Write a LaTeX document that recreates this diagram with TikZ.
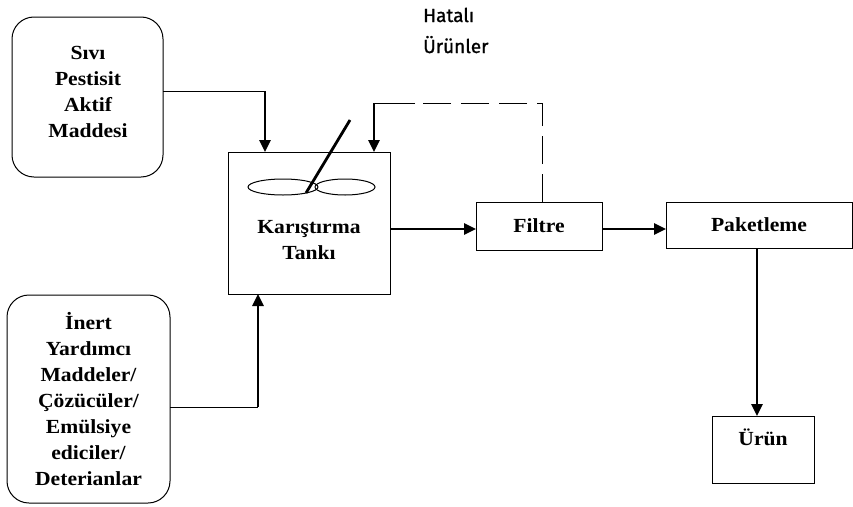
\documentclass[tikz,border=0pt]{standalone}
\usepackage{fontspec}
\setmainfont[FakeStretch=1.08]{Liberation Serif}
\newfontfamily\hfont[FakeBold=1.2]{Fira Sans}
\usetikzlibrary{arrows.meta}
\begin{document}
\begin{tikzpicture}[x=1pt,y=-1pt,
  box/.style={draw, line width=1pt, inner sep=0pt, outer sep=0pt},
  rbox/.style={box, rounded corners=22pt},
  lbl/.style={font=\fontsize{20}{26}\selectfont\bfseries, align=center, inner sep=0pt},
  arr/.style={line width=2.6pt, -{Triangle[length=12pt,width=11pt]}},
  thinline/.style={line width=1pt},
  dashline/.style={line width=1pt, dash pattern=on 28pt off 10pt}]
\useasboundingbox (0,0) rectangle (853,506);
% boxes
\node[rbox, minimum width=151pt, minimum height=160pt] (src1) at (87.5,97) {};
\node[lbl] (t1) at (88,92) {Sıvı\\Pestisit\\Aktif\\Maddesi};
\node[rbox, minimum width=163pt, minimum height=208pt, lbl, draw] (src2) at (88.5,399) {İnert\\Yardımcı\\Maddeler/\\Çözücüler/\\Emülsiye\\ediciler/\\Deterianlar};
\node[box, minimum width=162pt, minimum height=142pt] (tank) at (309,223) {};
\node[lbl] (tt) at (309,240) {Karıştırma\\Tankı};
\node[box, minimum width=126pt, minimum height=48pt, font=\fontsize{20}{26}\selectfont\bfseries] (filtre) at (539,226) {Filtre};
\node[box, minimum width=186pt, minimum height=46pt, font=\fontsize{20}{26}\selectfont\bfseries] (paket) at (759,225) {Paketleme};
\node[box, minimum width=102pt, minimum height=67pt] (urun) at (763,449.5) {};
\node[lbl] (ut) at (763,437) {Ürün};
% label
\node[font=\hfont\fontsize{19}{31}\selectfont, anchor=base west, inner sep=0pt] (h1) at (423,22) {Hatalı};
\node[font=\hfont\fontsize{19}{31}\selectfont, anchor=base west, inner sep=0pt] (h2) at (423,53) {Ürünler};
% stirrer
\draw[line width=1pt] (283,187) ellipse [x radius=35pt, y radius=8pt];
\draw[line width=1pt] (345,187) ellipse [x radius=30pt, y radius=8pt];
\draw[line width=2.8pt] (306,193) -- (350,120);
% connectors
\coordinate (c1) at (265,91);
\draw[thinline] (src1.east |- c1) -- (c1);
\draw[arr] (c1) -- (c1 |- tank.north);
\coordinate (c2) at (258,407);
\draw[thinline] (src2.east |- c2) -- (c2);
\draw[arr] (c2) -- (c2 |- tank.south);
\coordinate (c4) at (400,229);
\draw[arr] (tank.east |- c4) -- (filtre.west |- c4);
\draw[arr] (filtre.east |- c4) -- (paket.west |- c4);
\coordinate (c3) at (757,300);
\draw[arr] (c3 |- paket.south) -- (c3 |- urun.north);
% defective products return
\coordinate (d2) at (542,103);
\coordinate (d3) at (415,103);
\coordinate (d1) at (374,103);
\draw[dashline] (d2 |- filtre.north) -- (d2) -- (d3);
\draw[thinline] (d3) -- (d1);
\draw[arr] (d1) -- (d1 |- tank.north);
\end{tikzpicture}
\end{document}
